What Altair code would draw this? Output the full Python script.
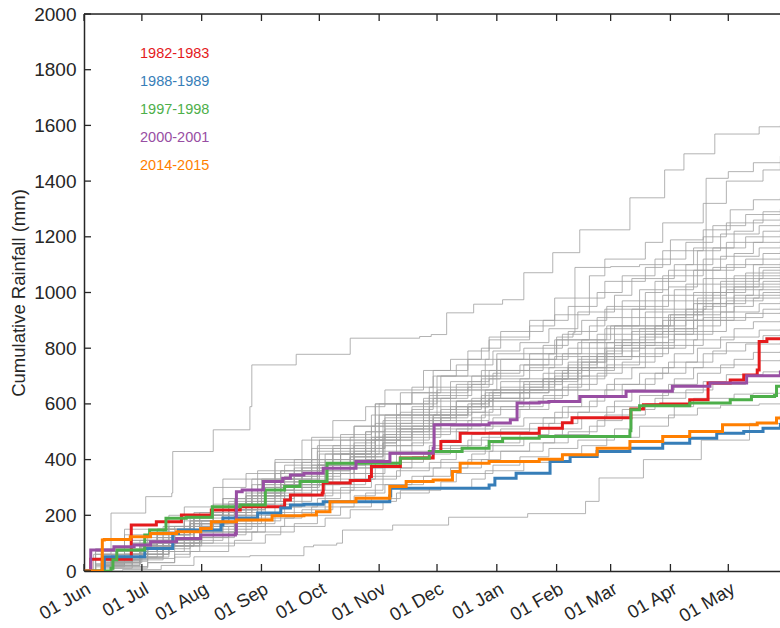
import altair as alt
import pandas as pd

# ---------------- data ----------------
START = pd.Timestamp("2001-06-01")
DOMAIN_END_DAY = 360.8

# four staggered, irregular day grids used by the background years
grid_a = [0, 11, 29, 38, 57, 72, 90, 99, 118, 140, 151, 170, 181, 199, 210, 231, 244, 262, 270, 291, 300, 321, 333, 352, 361]
grid_b = [0, 6, 21, 44, 52, 67, 84, 104, 113, 129, 146, 156, 176, 190, 206, 216, 238, 251, 266, 279, 296, 312, 326, 343, 361]
grid_c = [0, 14, 25, 41, 60, 78, 87, 109, 121, 133, 149, 164, 185, 193, 212, 226, 241, 256, 275, 284, 306, 316, 337, 347, 361]
grid_d = [0, 9, 33, 47, 55, 75, 94, 102, 125, 138, 155, 162, 179, 201, 208, 228, 248, 258, 271, 288, 303, 318, 330, 350, 361]

grey_grid = [
    [0, 30, 95, 140, 200, 260, 330, 390, 440, 520, 600, 660, 720, 790, 840, 880, 920, 980, 1040, 1090, 1150, 1200, 1250, 1290, 1300],
    [0, 80, 150, 200, 230, 300, 350, 380, 470, 540, 590, 650, 720, 760, 800, 860, 900, 950, 1000, 1060, 1120, 1180, 1240, 1280, 1290],
    [0, 50, 100, 160, 210, 260, 330, 400, 450, 490, 560, 640, 700, 740, 790, 820, 870, 930, 990, 1050, 1100, 1160, 1220, 1260, 1270],
    [0, 60, 90, 130, 180, 250, 300, 360, 420, 480, 540, 600, 660, 700, 760, 800, 850, 900, 950, 1010, 1080, 1150, 1210, 1240, 1250],
    [0, 20, 70, 150, 200, 240, 290, 350, 400, 460, 530, 590, 640, 680, 720, 780, 830, 880, 940, 1000, 1060, 1120, 1180, 1220, 1230],
    [0, 45, 110, 160, 190, 240, 280, 340, 390, 450, 500, 560, 620, 680, 720, 760, 810, 860, 910, 970, 1040, 1100, 1160, 1200, 1210],
    [0, 30, 60, 110, 170, 240, 310, 370, 430, 470, 520, 570, 620, 670, 710, 740, 780, 820, 880, 940, 1010, 1080, 1140, 1180, 1190],
    [0, 70, 120, 160, 200, 240, 300, 360, 400, 440, 490, 560, 630, 670, 700, 740, 780, 830, 880, 950, 1020, 1080, 1130, 1160, 1170],
    [0, 40, 90, 150, 210, 260, 310, 360, 400, 450, 520, 580, 620, 660, 690, 730, 770, 820, 870, 930, 990, 1050, 1100, 1140, 1150],
    [0, 15, 60, 100, 160, 230, 290, 330, 380, 440, 500, 550, 610, 650, 690, 720, 760, 800, 850, 910, 970, 1030, 1090, 1120, 1130],
    [0, 55, 100, 140, 190, 240, 290, 340, 380, 430, 480, 530, 580, 610, 650, 690, 730, 780, 830, 880, 940, 1000, 1060, 1100, 1110],
    [0, 35, 90, 130, 180, 220, 270, 310, 360, 420, 480, 540, 590, 620, 650, 680, 720, 770, 820, 870, 920, 980, 1040, 1090, 1100],
    [0, 25, 70, 120, 170, 220, 280, 330, 380, 430, 480, 520, 560, 600, 640, 680, 720, 770, 820, 870, 930, 990, 1050, 1080, 1090],
    [0, 60, 110, 150, 180, 220, 270, 320, 370, 420, 470, 510, 560, 610, 650, 680, 710, 750, 800, 850, 910, 970, 1030, 1070, 1080],
    [0, 20, 50, 100, 160, 220, 290, 340, 380, 420, 470, 520, 570, 610, 640, 640, 650, 760, 810, 860, 910, 960, 1020, 1060, 1070],
    [0, 45, 80, 120, 170, 230, 280, 320, 370, 410, 460, 510, 560, 600, 640, 670, 710, 750, 790, 840, 900, 960, 1020, 1050, 1060],
    [0, 30, 80, 130, 180, 220, 260, 300, 350, 410, 470, 520, 560, 590, 620, 660, 700, 750, 800, 850, 900, 950, 1010, 1040, 1050],
    [0, 70, 130, 160, 190, 230, 270, 310, 350, 390, 440, 490, 540, 580, 620, 650, 690, 740, 780, 830, 880, 940, 1000, 1030, 1040],
    [0, 10, 40, 90, 150, 210, 270, 320, 370, 420, 470, 510, 550, 590, 620, 650, 690, 730, 770, 820, 870, 930, 990, 1020, 1030],
    [0, 40, 90, 130, 170, 220, 270, 310, 360, 410, 460, 500, 540, 570, 610, 650, 690, 730, 770, 820, 870, 920, 980, 1010, 1020],
    [0, 50, 90, 120, 160, 200, 250, 300, 350, 400, 450, 500, 550, 590, 620, 650, 690, 730, 770, 810, 860, 910, 970, 1000, 1010],
    [0, 25, 60, 110, 150, 200, 250, 290, 330, 380, 440, 500, 550, 590, 630, 660, 690, 730, 770, 810, 850, 900, 960, 990, 1000],
    [0, 35, 70, 110, 160, 210, 260, 300, 340, 380, 430, 480, 530, 570, 610, 640, 680, 720, 760, 800, 850, 900, 950, 980, 990],
    [0, 60, 110, 140, 170, 210, 250, 290, 330, 370, 420, 470, 510, 550, 590, 620, 660, 700, 740, 780, 830, 880, 930, 960, 970],
    [0, 20, 50, 90, 140, 190, 240, 280, 320, 370, 420, 460, 500, 540, 580, 610, 650, 690, 730, 770, 810, 860, 910, 940, 950],
    [0, 40, 80, 120, 160, 200, 240, 270, 310, 350, 400, 450, 490, 520, 560, 590, 630, 670, 710, 750, 800, 850, 900, 925, 930],
    [0, 30, 70, 100, 140, 180, 230, 270, 310, 350, 390, 430, 470, 510, 550, 580, 610, 650, 690, 730, 780, 830, 870, 895, 900],
    [0, 15, 45, 80, 120, 160, 200, 240, 280, 330, 380, 420, 450, 490, 520, 550, 590, 630, 670, 710, 750, 800, 840, 865, 870],
    [0, 50, 90, 110, 140, 170, 210, 250, 290, 330, 370, 410, 440, 470, 500, 530, 570, 610, 650, 690, 730, 780, 820, 845, 850],
    [0, 25, 60, 90, 120, 160, 200, 230, 270, 310, 350, 390, 420, 450, 480, 510, 550, 590, 630, 670, 710, 750, 790, 815, 820],
    [0, 35, 60, 90, 120, 150, 190, 230, 260, 300, 340, 370, 400, 430, 460, 490, 530, 570, 610, 650, 690, 730, 760, 785, 790],
    [0, 10, 30, 60, 100, 140, 180, 210, 250, 290, 330, 360, 390, 420, 450, 480, 510, 550, 590, 630, 670, 710, 740, 755, 760],
    [0, 40, 70, 90, 110, 140, 170, 200, 230, 270, 310, 340, 370, 400, 430, 460, 490, 520, 560, 600, 640, 680, 705, 715, 720],
    [0, 20, 50, 70, 100, 130, 160, 190, 220, 250, 280, 310, 340, 370, 400, 430, 460, 500, 540, 580, 620, 650, 670, 678, 680],
    [0, 30, 50, 70, 90, 110, 140, 170, 200, 230, 260, 290, 320, 350, 380, 410, 440, 470, 510, 550, 590, 620, 635, 638, 640],
    [0, 15, 30, 50, 70, 100, 130, 160, 190, 220, 250, 280, 300, 330, 360, 390, 420, 450, 480, 520, 560, 585, 595, 600, 600],
    [0, 50, 110, 150, 200, 330, 360, 400, 480, 520, 600, 640, 700, 760, 830, 900, 980, 1060, 1120, 1180, 1250, 1320, 1400, 1440, 1470],
]

# background years with distinctive jumps: (day, cumulative mm)
grey_a_days = [0, 5, 14, 32, 45.5, 46, 67, 86, 87, 110, 138, 174, 180, 188, 202, 217, 228, 243, 257, 283, 301, 311, 327, 350, 361]
grey_a_vals = [0, 60, 208, 267, 280, 429, 507, 590, 740, 778, 836, 842, 849, 927, 958, 974, 1071, 1143, 1225, 1340, 1440, 1498, 1569, 1595, 1600]
grey_b_days = [0, 15, 30, 61, 92, 122, 153, 183, 214, 245, 273, 304, 321, 322.5, 334, 347, 361]
grey_b_vals = [0, 40, 100, 170, 300, 420, 560, 650, 760, 830, 880, 920, 940, 1410, 1434, 1466, 1490]
grey_c_days = [0, 15, 30, 61, 92, 122, 153, 183, 214, 245, 253.5, 254.5, 273, 288, 304, 321, 335, 347, 361]
grey_c_vals = [0, 30, 90, 180, 330, 470, 600, 700, 780, 840, 855, 1090, 1093, 1100, 1189, 1225, 1297, 1333, 1340]
grey_l_days = [0, 20, 40, 57, 86, 114, 119, 131, 134, 160, 189, 230, 260, 266.5, 267, 290, 320, 345, 361]
grey_l_vals = [0, 5, 20, 51, 55, 87, 93, 100, 147, 165, 193, 206, 250, 250, 334, 400, 470, 530, 560]

# highlighted years
hl_labels = ["1982-1983", "1988-1989", "1997-1998", "2000-2001", "2014-2015"]
hl_colors = ["#e41a1c", "#377eb8", "#4daf4a", "#984ea3", "#ff7f00"]

red_days = [0, 3, 3.5, 24, 24.5, 37, 37.5, 50, 50.5, 66, 81, 104, 107, 123.5, 124, 138, 148, 149, 164, 181, 185, 195,
            236, 248, 253, 283, 283.5, 290, 299, 314, 323, 323.5, 335, 342, 349, 350, 354, 361]
red_vals = [0, 0, 42, 42, 165, 165, 177, 177, 201, 219, 231, 255, 273, 280, 316, 325, 339, 375, 406, 429, 465, 495,
            513, 532, 550, 550, 582, 597, 600, 615, 615, 675, 686, 704, 722, 824, 834, 834]
blue_days = [0, 9, 10.5, 31, 31.5, 45.5, 46, 49, 71, 72, 90, 102, 107, 114, 124, 158.5, 159, 210, 213, 224, 241, 241.6,
             252, 266, 283, 300, 314, 328, 342, 352, 361]
blue_vals = [0, 0, 51, 51, 81, 81, 135, 147, 165, 190, 208, 226, 237, 240, 249, 269, 297, 309, 333, 351, 351, 393,
             411, 429, 441, 459, 477, 495, 501, 513, 531]
green_days = [0, 7, 14, 15, 17, 31, 31.5, 34, 42, 42.5, 53, 66, 66.5, 81, 93.5, 94, 104, 112, 125.5, 126, 164, 179,
              196, 210, 217, 236, 283, 283.5, 288, 314, 335, 346, 358, 359, 361]
green_vals = [0, 0, 10, 40, 75, 75, 129, 147, 147, 189, 193, 193, 231, 237, 237, 291, 303, 321, 321, 387, 405, 429,
              441, 465, 477, 483, 504, 579, 593, 603, 615, 627, 630, 663, 663]
purple_days = [0, 2, 3.5, 15.5, 26, 34.5, 48, 60.5, 78.5, 79, 82, 93, 103, 107, 114, 124, 141, 158.6, 181, 181.5, 210,
               221, 224, 224.5, 236, 241, 257, 281, 305, 324.5, 343.5, 361]
purple_vals = [0, 0, 75, 87, 93, 105, 117, 129, 135, 285, 291, 321, 333, 345, 351, 369, 393, 423, 441, 525, 531,
               543, 543, 603, 606, 609, 627, 645, 663, 675, 701, 720]
orange_days = [0, 9, 9.5, 10.5, 24, 34.5, 48, 60.5, 66, 79, 97, 97.5, 114, 120.5, 127.5, 141, 158.5, 167, 181, 191,
               195, 210, 236, 248, 266, 283, 300, 314, 331, 349, 359, 361]
orange_vals = [0, 0, 111, 113, 123, 135, 141, 153, 177, 183, 183, 198, 201, 213, 249, 261, 303, 321, 327, 357,
               387, 393, 401, 417, 441, 465, 483, 501, 525, 531, 549, 549]

y_tick_values = [0, 200, 400, 600, 800, 1000, 1200, 1400, 1600, 1800, 2000]
month_tick_days = [0, 30, 61, 92, 122, 153, 183, 214, 245, 273, 304, 334]

# ---------------- build tables ----------------
def to_date(days):
    return [START + pd.Timedelta(days=float(d)) for d in days]

grids = [grid_a, grid_b, grid_c, grid_d]
rows = []
for i, vals in enumerate(grey_grid):
    for d, v in zip(to_date(grids[i % 4]), vals):
        rows.append({"series": f"g{i}", "date": d, "value": v})
for name, dd, vv in [("ga", grey_a_days, grey_a_vals), ("gb", grey_b_days, grey_b_vals),
                     ("gc", grey_c_days, grey_c_vals), ("gl", grey_l_days, grey_l_vals)]:
    for d, v in zip(to_date(dd), vv):
        rows.append({"series": name, "date": d, "value": v})
grey_df = pd.DataFrame(rows)

hl_data = [(red_days, red_vals), (blue_days, blue_vals), (green_days, green_vals),
           (purple_days, purple_vals), (orange_days, orange_vals)]

W, H = 696, 557
FONT = "Liberation Sans"
AX = "#262626"
GREY = "#a0a0a0"

x_scale = alt.Scale(domain=[START.isoformat(), (START + pd.Timedelta(days=DOMAIN_END_DAY)).isoformat()], nice=False)
y_scale = alt.Scale(domain=[0, 2000], nice=False, zero=True)

x_axis = alt.Axis(
    values=[alt.DateTime(year=d.year, month=d.month, date=d.day) for d in to_date(month_tick_days)],
    format="%d %b", labelAngle=-30, labelFontSize=18.5, labelPadding=8, labelOverlap=False,
    ticks=False, grid=False, domain=True, title=None, labelFont=FONT, labelColor=AX,
    domainColor=AX, domainWidth=1.5)
y_axis = alt.Axis(
    values=y_tick_values, format="d", labelFontSize=19, labelPadding=8, ticks=False, grid=False,
    domain=True, title="Cumulative Rainfall (mm)", titleFontSize=18.5, titleFontWeight="normal",
    titleFont=FONT, titleColor=AX, titleAngle=270, titleX=-66, titleY=H / 2,
    titleAlign="center", titleBaseline="middle", labelFont=FONT, labelColor=AX,
    domainColor=AX, domainWidth=1.5)

X = alt.X("date:T", scale=x_scale, axis=x_axis)
Y = alt.Y("value:Q", scale=y_scale, axis=y_axis)

grey = alt.Chart(grey_df).mark_line(
    color=GREY, strokeWidth=0.8, clip=True, interpolate="step-after").encode(
    x=X, y=Y, detail="series:N")

layers = [grey]
for (dd, vv), lab, col in zip(hl_data, hl_labels, hl_colors):
    df = pd.DataFrame({"date": to_date(dd), "value": vv})
    layers.append(alt.Chart(df).mark_line(
        color=col, strokeWidth=3, clip=True, interpolate="step-after").encode(x=X, y=Y))

month_df = pd.DataFrame({"date": to_date(month_tick_days)})
ytick_df = pd.DataFrame({"value": y_tick_values})
one = pd.DataFrame({"a": [0]})

tick_bottom = alt.Chart(month_df).mark_rule(color=AX, strokeWidth=1.3).encode(
    x=X, y=alt.value(H), y2=alt.value(H - 7))
tick_top = alt.Chart(month_df).mark_rule(color=AX, strokeWidth=1.3).encode(
    x=X, y=alt.value(0), y2=alt.value(7))
tick_left = alt.Chart(ytick_df).mark_rule(color=AX, strokeWidth=1.3).encode(
    y=Y, x=alt.value(0), x2=alt.value(7))
top_border = alt.Chart(one).mark_rule(color=AX, strokeWidth=1.5).encode(
    x=alt.value(0), x2=alt.value(W), y=alt.value(0))
layers += [tick_bottom, tick_top, tick_left, top_border]

for i, (lab, col) in enumerate(zip(hl_labels, hl_colors)):
    ldf = pd.DataFrame({"label": [lab]})
    layers.append(alt.Chart(ldf).mark_text(
        align="left", baseline="middle", fontSize=14.5, font=FONT, color=col).encode(
        text="label:N", x=alt.value(56), y=alt.value(39.5 + i * 28.1)))

chart = alt.layer(*layers).properties(
    width=W, height=H,
    padding={"left": 84, "top": 14, "right": 0, "bottom": 628 - 14 - H},
    autosize=alt.AutoSizeParams(type="none"),
).configure_view(stroke=None).configure(background="white")

chart.save("out.html", embed_options={"renderer": "svg", "actions": False})
